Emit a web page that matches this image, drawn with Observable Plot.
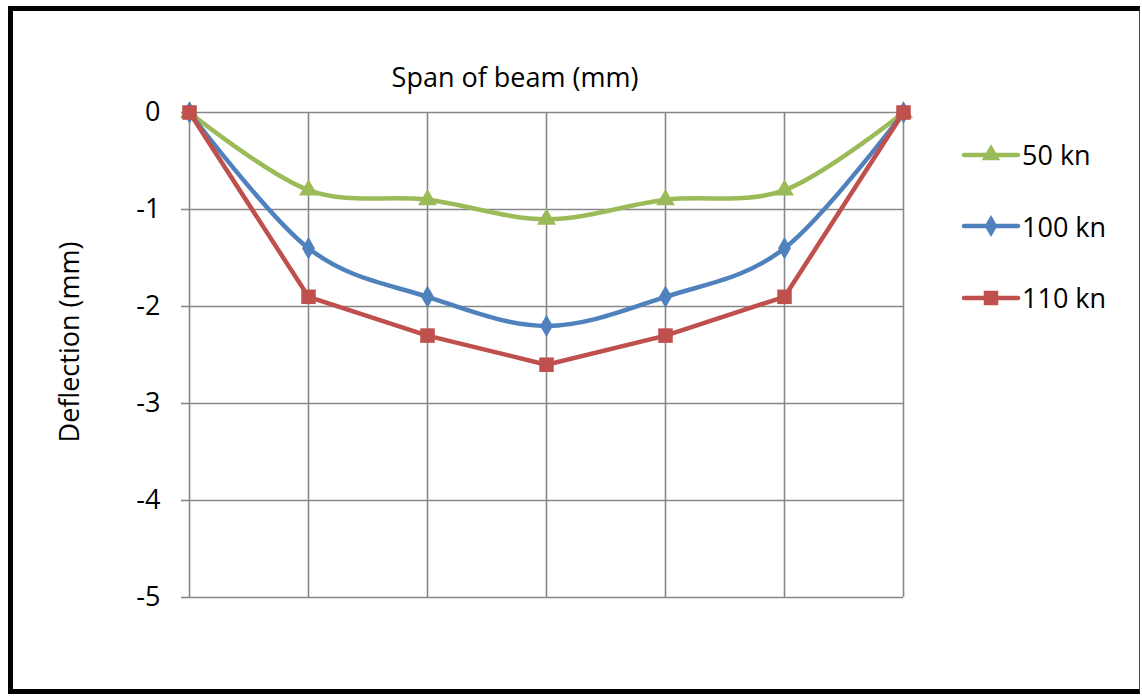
<!DOCTYPE html>
<html>
<head>
<meta charset="utf-8">
<script src="https://cdn.jsdelivr.net/npm/d3@7"></script>
<script src="https://cdn.jsdelivr.net/npm/@observablehq/plot@0.6"></script>
<style>
  html, body { margin: 0; padding: 0; background: #fff; }
  #wrap { position: relative; width: 1142px; height: 699px; overflow: hidden; font-family: "Open Sans", sans-serif; }
  #frame { position: absolute; left: 8px; top: 6px; width: 1132px; height: 688px; box-sizing: border-box;
           border-top: 5px solid #000; border-left: 5px solid #000; border-bottom: 5px solid #000; border-right: 1.5px solid #444; }
  #title { position: absolute; left: 515px; top: 57px; transform: translateX(-50%); font-size: 27px; color: #000; white-space: nowrap; line-height: 40px; }
  #ylabel { position: absolute; left: 68px; top: 342px; transform: translate(-50%, -50%) rotate(-90deg); font-size: 27px; color: #000; white-space: nowrap; }
  #legend { position: absolute; left: 961px; top: 119px; }
  .item { display: flex; align-items: center; height: 71.5px; }
  .item span { font-size: 27px; color: #000; margin-left: 1px; }
</style>
</head>
<body>
<div id="wrap">
  <div id="chart"></div>
  <div id="frame"></div>
  <div id="title">Span of beam (mm)</div>
  <div id="ylabel">Deflection (mm)</div>
  <div id="legend"></div>
</div>
<script>
// Data
const points = [1, 2, 3, 4, 5, 6, 7];
const load50 = [0, -0.8, -0.9, -1.1, -0.9, -0.8, 0];
const load100 = [0, -1.4, -1.9, -2.2, -1.9, -1.4, 0];
const load110 = [0, -1.9, -2.3, -2.6, -2.3, -1.9, 0];
const seriesNames = ["50 kn", "100 kn", "110 kn"];
const seriesColors = ["#9BBB59", "#4F81BD", "#C0504D"];
const seriesSymbols = ["triangle", "diamond", "square"];
const seriesCurves = ["cardinal", "cardinal", "linear"];
const yTicks = [0, -1, -2, -3, -4, -5];

const allSeries = [load50, load100, load110].map((vals, s) =>
  points.map((p, i) => ({series: seriesNames[s], x: p, y: vals[i]}))
);

const marks = [
  Plot.gridX(points, {stroke: "#878787", strokeOpacity: 1, strokeWidth: 1.6}),
  Plot.gridY(yTicks, {stroke: "#878787", strokeOpacity: 1, strokeWidth: 1.6}),
  Plot.axisY(yTicks, {
    anchor: "left", tickSize: 8, tickPadding: 21, stroke: "#878787", strokeWidth: 1.6,
    fontSize: 27, fill: "#000", tickFormat: d => d === 0 ? "0" : "-" + Math.abs(d),
    label: null
  })
];
allSeries.forEach((data, s) => {
  marks.push(Plot.line(data, {x: "x", y: "y", stroke: seriesColors[s], strokeWidth: 4.5, curve: seriesCurves[s]}));
});
allSeries.forEach((data, s) => {
  marks.push(Plot.dot(data, {x: "x", y: "y", fill: seriesColors[s], symbol: seriesSymbols[s],
    r: seriesSymbols[s] === "square" ? 8.2 : seriesSymbols[s] === "triangle" ? 7 : 6.8}));
});

const chart = Plot.plot({
  width: 1142, height: 699,
  marginLeft: 189, marginRight: 239, marginTop: 112, marginBottom: 102,
  x: {domain: [1, 7], axis: null},
  y: {domain: [-5, 0], axis: null},
  style: {fontFamily: "'Open Sans', sans-serif", fontSize: "27px", background: "#fff", overflow: "visible"},
  marks
});
chart.style.position = "absolute";
chart.style.left = "0";
chart.style.top = "0";
document.getElementById("chart").appendChild(chart);

// Legend
const legend = document.getElementById("legend");
seriesNames.forEach((name, s) => {
  const item = document.createElement("div");
  item.className = "item";
  const sym = d3.symbol().type(
    seriesSymbols[s] === "triangle" ? d3.symbolTriangle :
    seriesSymbols[s] === "diamond" ? d3.symbolDiamond : d3.symbolSquare
  ).size(seriesSymbols[s] === "square" ? 210 : seriesSymbols[s] === "triangle" ? 150 : 140)();
  item.innerHTML = `<svg width="60" height="22" viewBox="0 0 60 22">
      <line x1="3" x2="57" y1="11" y2="11" stroke="${seriesColors[s]}" stroke-width="4.5" stroke-linecap="round"/>
      <path d="${sym}" transform="translate(30,11)" fill="${seriesColors[s]}"/>
    </svg><span>${name}</span>`;
  legend.appendChild(item);
});
</script>
</body>
</html>
